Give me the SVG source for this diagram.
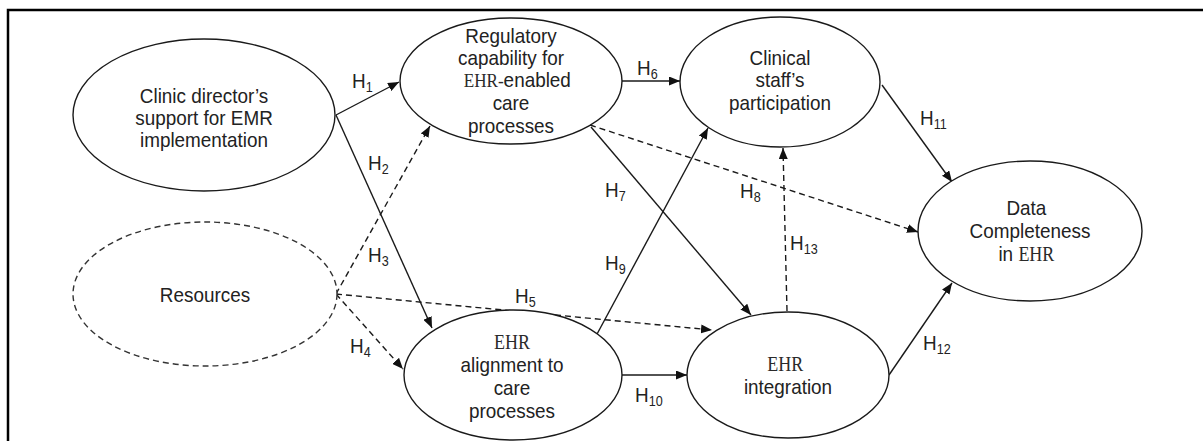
<svg xmlns="http://www.w3.org/2000/svg" width="1203" height="441" viewBox="0 0 1203 441">
<style>
.bg{fill:#fff}
.frame{stroke:#000;stroke-width:2.5;fill:none}
.node{fill:#fff;stroke:#1a1a1a;stroke-width:1.4}
.dnode{fill:#fff;stroke:#333;stroke-width:1.4;stroke-dasharray:6 4}
.t{font-family:"Liberation Sans",Arial,sans-serif;font-size:21px;fill:#222}
.s{font-family:"Liberation Serif","Times New Roman",serif;fill:#2a2a2a}
.sub{font-size:14px}
.c{stroke:#1a1a1a;stroke-width:1.4;fill:none;marker-end:url(#ah)}
.d{stroke-dasharray:6 4}
</style>
<defs>
<marker id="ah" viewBox="0 0 11 9" refX="11" refY="4.5" markerWidth="11" markerHeight="9" markerUnits="userSpaceOnUse" orient="auto">
<path d="M0,0 L11,4.5 L0,9 z" fill="#111"/>
</marker>
</defs>
<rect class="bg" x="0" y="0" width="1203" height="441"/>
<path class="frame" d="M8,441 L8,10 L1203,10"/>

<g id="connectors">
<path id="h1" class="c" d="M336,115 L399,82"/>
<path id="h2" class="c" d="M336,115 L432,328"/>
<path id="h3" class="c d" d="M336,294 L430,126"/>
<path id="h4" class="c d" d="M336,294 L403,369"/>
<path id="h5" class="c d" d="M336,294 L712,330"/>
<path id="h6" class="c" d="M622,81 L680,81"/>
<path id="h7" class="c" d="M591,127 L751,315"/>
<path id="h8" class="c d" d="M590,125 L918,232"/>
<path id="h9" class="c" d="M596,336 L708,128"/>
<path id="h10" class="c" d="M622,375 L687,375"/>
<path id="h11" class="c" d="M882,85 L952,182"/>
<path id="h12" class="c" d="M889,375 L952,283"/>
<path id="h13" class="c d" d="M787,311 L783,148"/>
</g>

<g id="labels" class="t">
<text transform="translate(352 88) scale(0.9 1)">H<tspan class="sub" dy="4">1</tspan></text>
<text transform="translate(368 170) scale(0.9 1)">H<tspan class="sub" dy="4">2</tspan></text>
<text transform="translate(368 262) scale(0.9 1)">H<tspan class="sub" dy="4">3</tspan></text>
<text transform="translate(350 353) scale(0.9 1)">H<tspan class="sub" dy="4">4</tspan></text>
<text transform="translate(515 303) scale(0.9 1)">H<tspan class="sub" dy="4">5</tspan></text>
<text transform="translate(637 75) scale(0.9 1)">H<tspan class="sub" dy="4">6</tspan></text>
<text transform="translate(605 197) scale(0.9 1)">H<tspan class="sub" dy="4">7</tspan></text>
<text transform="translate(740 198) scale(0.9 1)">H<tspan class="sub" dy="4">8</tspan></text>
<text transform="translate(605 270) scale(0.9 1)">H<tspan class="sub" dy="4">9</tspan></text>
<text transform="translate(635 402) scale(0.9 1)">H<tspan class="sub" dy="4">10</tspan></text>
<text transform="translate(920 125) scale(0.9 1)">H<tspan class="sub" dy="4">11</tspan></text>
<text transform="translate(923 350) scale(0.9 1)">H<tspan class="sub" dy="4">12</tspan></text>
<text transform="translate(790 250) scale(0.9 1)">H<tspan class="sub" dy="4">13</tspan></text>
</g>

<g id="clinic-director">
<ellipse class="node" cx="204" cy="115" rx="131" ry="76"/>
<text class="t" text-anchor="middle" transform="translate(204 0) scale(0.9 1)"><tspan x="0" y="103">Clinic director’s</tspan><tspan x="0" y="125">support for EMR</tspan><tspan x="0" y="147">implementation</tspan></text>
</g>

<g id="resources">
<ellipse class="dnode" cx="205" cy="294" rx="132" ry="72"/>
<text class="t" text-anchor="middle" transform="translate(205 0) scale(0.9 1)" x="0" y="302">Resources</text>
</g>

<g id="regulatory">
<ellipse class="node" cx="511" cy="81" rx="111" ry="63"/>
<text class="t" text-anchor="middle" transform="translate(511 0) scale(0.9 1)"><tspan x="0" y="43">Regulatory</tspan><tspan x="0" y="65">capability for</tspan><tspan x="7" y="87"><tspan class="s" font-size="19">EHR-</tspan>enabled</tspan><tspan x="0" y="110">care</tspan><tspan x="0" y="133">processes</tspan></text>
</g>

<g id="clinical-staff">
<ellipse class="node" cx="780" cy="82" rx="100" ry="65"/>
<text class="t" text-anchor="middle" transform="translate(780 0) scale(0.9 1)"><tspan x="0" y="65">Clinical</tspan><tspan x="0" y="87">staff’s</tspan><tspan x="0" y="110">participation</tspan></text>
</g>

<g id="data-completeness">
<ellipse class="node" cx="1030" cy="231" rx="112" ry="70"/>
<text class="t" text-anchor="middle" transform="translate(1030 0) scale(0.9 1)"><tspan x="-4" y="215">Data</tspan><tspan x="0" y="238">Completeness</tspan><tspan x="-4" y="261">in <tspan class="s" font-size="20">EHR</tspan></tspan></text>
</g>

<g id="ehr-alignment">
<ellipse class="node" cx="513" cy="375" rx="109" ry="65"/>
<text class="t" text-anchor="middle" transform="translate(512 0) scale(0.9 1)"><tspan x="0" y="349" class="s" font-size="20">EHR</tspan><tspan x="0" y="372">alignment to</tspan><tspan x="0" y="395">care</tspan><tspan x="0" y="418">processes</tspan></text>
</g>

<g id="ehr-integration">
<ellipse class="node" cx="788" cy="375" rx="101" ry="63"/>
<text class="t" text-anchor="middle" transform="translate(788 0) scale(0.9 1)"><tspan x="-3" y="371" class="s" font-size="20">EHR</tspan><tspan x="0" y="394">integration</tspan></text>
</g>
</svg>
